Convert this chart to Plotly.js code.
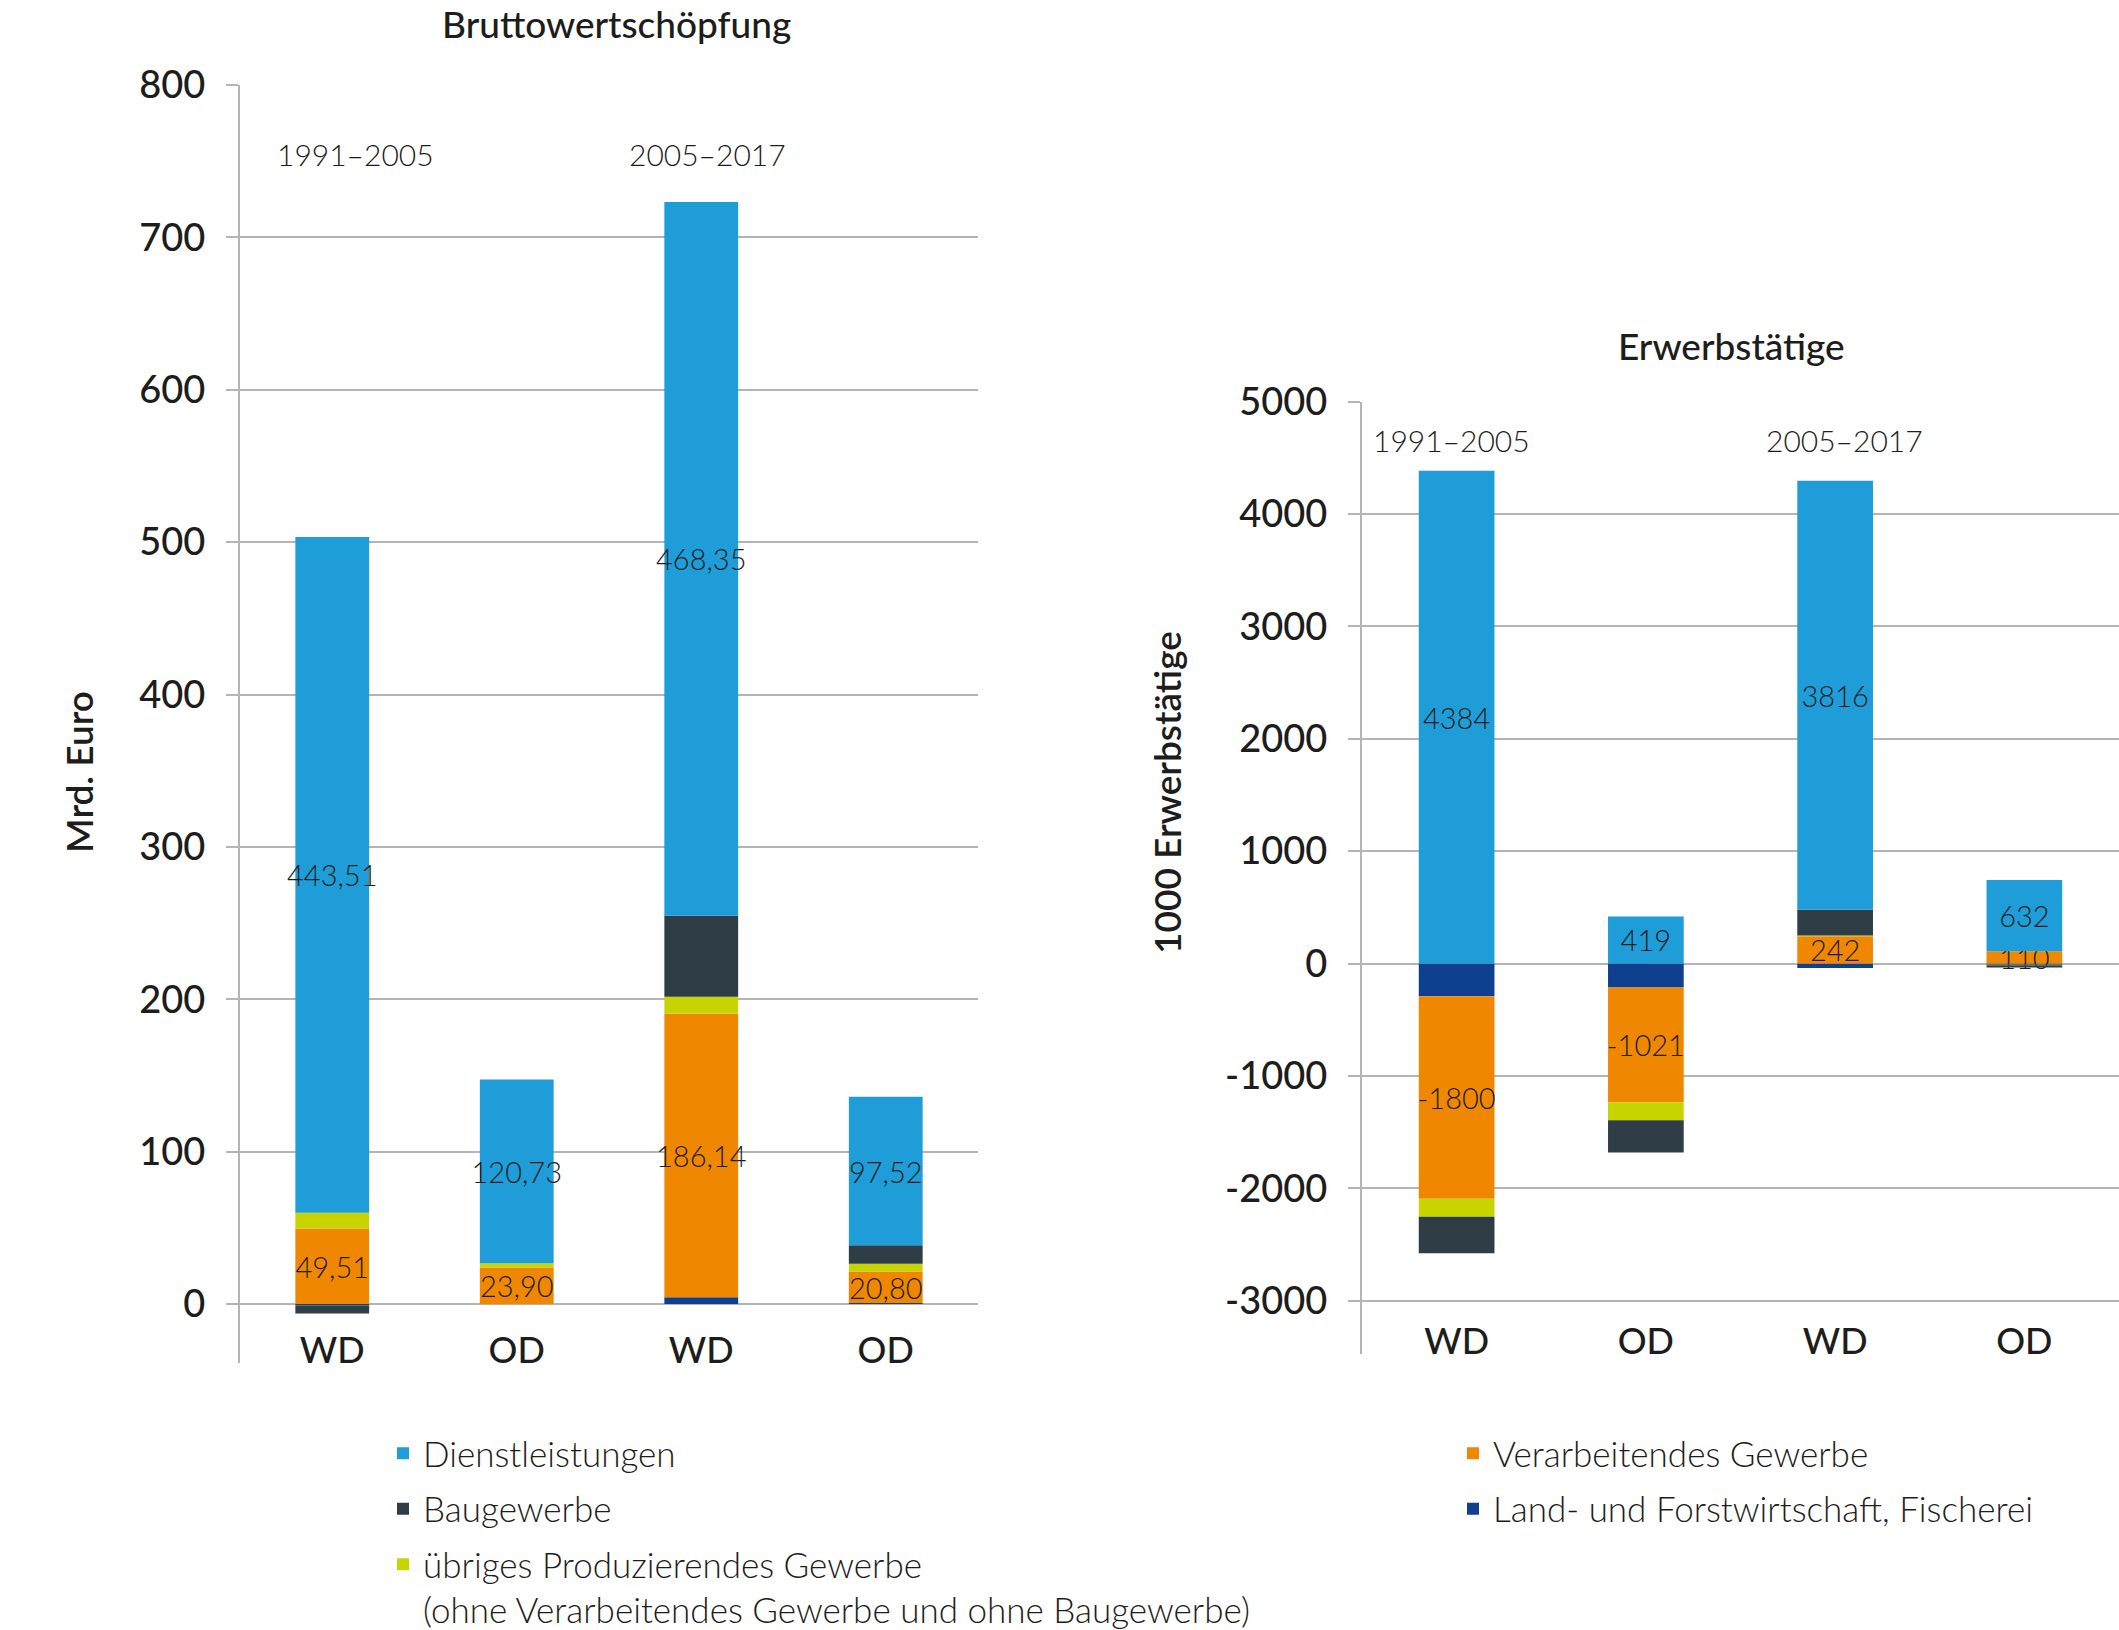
<!DOCTYPE html>
<html><head><meta charset="utf-8">
<script src="https://cdn.plot.ly/plotly-3.0.1.min.js"></script>
<style>html,body{margin:0;padding:0;background:#fff}</style>
</head><body><div id="chart" style="width:2119px;height:1630px"></div>
<script>
// ---------- data ----------
const categories = ['WD', 'OD', 'WD', 'OD'];
const periods = ['1991–2005', '2005–2017'];
const seriesNames = [
  'Land- und Forstwirtschaft, Fischerei',
  'Verarbeitendes Gewerbe',
  'übriges Produzierendes Gewerbe<br>(ohne Verarbeitendes Gewerbe und ohne Baugewerbe)',
  'Baugewerbe',
  'Dienstleistungen'
];
const seriesColors = ['#0f3f8f', '#f08700', '#c8d400', '#2f3e46', '#1e9dd8'];

// Bruttowertschöpfung, Mrd. Euro (WD 91-05, OD 91-05, WD 05-17, OD 05-17)
const bwsLand   = [-1.0, 0.0, 4.4, 0.6];
const bwsVerarb = [49.51, 23.90, 186.14, 20.80];
const bwsUebrig = [10.4, 2.8, 11.1, 5.0];
const bwsBau    = [-5.2, 0.0, 53.2, 12.1];
const bwsDienst = [443.51, 120.73, 468.35, 97.52];

// Erwerbstätige, 1000
const etLand   = [-292, -214, -40, -10];
const etVerarb = [-1800, -1021, 242, 110];
const etUebrig = [-160, -160, 8, -5];
const etBau    = [-326, -286, 229, -20];
const etDienst = [4384, 419, 3816, 632];

const bwsTicks = [0, 100, 200, 300, 400, 500, 600, 700, 800];
const etTicks = [-3000, -2000, -1000, 0, 1000, 2000, 3000, 4000, 5000];

// ---------- layout helpers ----------
const W = 2119, H = 1630;
const px = x => x / W, py = y => 1 - y / H;
const FONT = 'Lato, "Noto Sans", sans-serif';
const TXT = '#1d1d1b';
const GRID = '#b4b4b4';
const xPos = [0, 1, 2, 3];

const xDomL = [px(240), px(978)], yDomL = [py(1363), py(85)], yRangeL = [-38.7, 800];
const xDomR = [px(1362), 1], yDomR = [py(1354), py(401.5)], yRangeR = [-3474, 5000];
const zeroPos = (dom, r) => dom[0] + (0 - r[0]) / (r[1] - r[0]) * (dom[1] - dom[0]);

const fmtBws = v => v.toFixed(2).replace('.', ',');
const fmtEt = v => String(v);

const bwsSeries = [bwsLand, bwsVerarb, bwsUebrig, bwsBau, bwsDienst];
const etSeries = [etLand, etVerarb, etUebrig, etBau, etDienst];
const labelled = [false, true, false, false, true];
const legendOf = ['legend2', 'legend2', 'legend', 'legend', 'legend'];
const rankOf = [2, 1, 3, 2, 1];

const traces = [];
bwsSeries.forEach((vals, i) => {
  traces.push({
    type: 'bar', x: xPos, y: vals, name: seriesNames[i], xaxis: 'x', yaxis: 'y',
    marker: {color: seriesColors[i], line: {width: 0}}, width: 0.4,
    text: labelled[i] ? vals.map(fmtBws) : undefined,
    textposition: labelled[i] ? 'inside' : 'none', insidetextanchor: 'middle', textangle: 0,
    textfont: {family: FONT, size: 29, weight: 300, color: TXT},
    legend: legendOf[i], legendrank: rankOf[i], legendgroup: 'g' + i,
    hoverinfo: 'skip'
  });
});
etSeries.forEach((vals, i) => {
  traces.push({
    type: 'bar', x: xPos, y: vals, name: seriesNames[i], xaxis: 'x2', yaxis: 'y2',
    marker: {color: seriesColors[i], line: {width: 0}}, width: 0.4,
    text: labelled[i] ? vals.map(fmtEt) : undefined,
    textposition: labelled[i] ? 'inside' : 'none', insidetextanchor: 'middle', textangle: 0,
    textfont: {family: FONT, size: 29, weight: 300, color: TXT},
    showlegend: false, legendgroup: 'g' + i, hoverinfo: 'skip'
  });
});

function yAxis(dom, range, ticks, anchor, standoff) {
  return {
    domain: dom, range: range, anchor: anchor, fixedrange: true,
    tickmode: 'array', tickvals: ticks, ticktext: ticks.map(String),
    showgrid: true, gridcolor: GRID, gridwidth: 2, zeroline: false,
    showline: true, linecolor: GRID, linewidth: 2,
    ticks: 'outside', ticklen: 12, tickwidth: 2, tickcolor: GRID,
    ticklabelstandoff: standoff,
    tickfont: {family: FONT, size: 38, weight: 500, color: TXT}
  };
}
function xAxis(dom, anchor) {
  return {
    domain: dom, range: [-0.5, 3.5], anchor: anchor, fixedrange: true,
    tickmode: 'array', tickvals: xPos, ticktext: categories,
    ticks: '', showgrid: false, zeroline: false, showline: false,
    ticklabelposition: 'inside', ticklabelstandoff: -10,
    tickfont: {family: FONT, size: 36, weight: 500, color: TXT}
  };
}
function tickAxis(over, dom, pos) {
  return {
    overlaying: over, anchor: 'free', position: pos, range: [-0.5, 3.5], fixedrange: true,
    tickmode: 'array', tickvals: [0.5, 1.5, 2.5, 3.5], ticks: 'outside', ticklen: 12,
    tickwidth: 2, tickcolor: GRID, showticklabels: false, showgrid: false,
    zeroline: false, showline: false
  };
}

const ann = (text, x, y, size, weight, extra) => Object.assign({
  text: text, xref: 'paper', yref: 'paper', x: px(x), y: py(y), showarrow: false,
  xanchor: 'center', yanchor: 'middle',
  font: {family: FONT, size: size, weight: weight, color: TXT}
}, extra || {});

const legendStyle = {
  y: py(1424), xanchor: 'left', yanchor: 'top', orientation: 'v',
  traceorder: 'grouped', tracegroupgap: 7, valign: 'top', bgcolor: 'rgba(0,0,0,0)',
  font: {family: FONT, size: 35, weight: 300, color: TXT}
};

const layout = {
  width: W, height: H, margin: {l: 0, r: 0, t: 0, b: 0, autoexpand: false},
  paper_bgcolor: '#fff', plot_bgcolor: 'rgba(0,0,0,0)',
  barmode: 'relative', bargap: 0.6,
  uniformtext: {mode: 'show', minsize: 29},
  font: {family: FONT, color: TXT},
  xaxis: xAxis(xDomL, 'y'),
  yaxis: yAxis(yDomL, yRangeL, bwsTicks, 'x', 13),
  xaxis2: xAxis(xDomR, 'y2'),
  yaxis2: yAxis(yDomR, yRangeR, etTicks, 'x2', 13),
  xaxis3: tickAxis('x', xDomL, zeroPos(yDomL, yRangeL)),
  xaxis4: tickAxis('x2', xDomR, zeroPos(yDomR, yRangeR)),
  legend: Object.assign({x: px(383)}, legendStyle),
  legend2: Object.assign({x: px(1453)}, legendStyle),
  annotations: [
    ann('Bruttowertschöpfung', 616, 23, 37, 500),
    ann('Erwerbstätige', 1731, 345, 37, 500),
    ann(periods[0], 355, 154, 30, 300),
    ann(periods[1], 707, 154, 30, 300),
    ann(periods[0], 1451, 440, 30, 300),
    ann(periods[1], 1844, 440, 30, 300),
    ann('Mrd. Euro', 79, 772, 37, 600, {textangle: -90}),
    ann('1000 Erwerbstätige', 1166, 793, 37, 600, {textangle: -90})
  ]
};

Plotly.newPlot('chart', traces, layout, {displayModeBar: false, staticPlot: true});
</script>
</body></html>
